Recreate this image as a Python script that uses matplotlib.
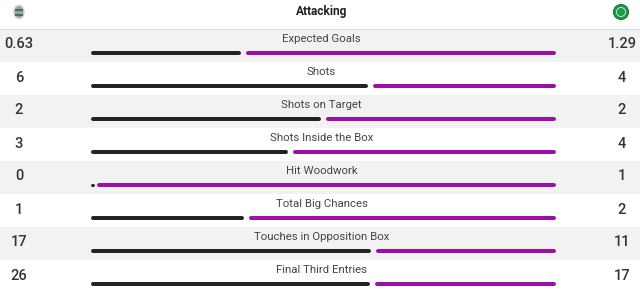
import matplotlib
matplotlib.use("Agg")
import matplotlib.pyplot as plt
from matplotlib.patches import Circle, Rectangle, Ellipse

plt.rcParams['font.family'] = ['Roboto', 'DejaVu Sans']

title = "Attacking"
stats = ["Expected Goals", "Shots", "Shots on Target", "Shots Inside the Box",
         "Hit Woodwork", "Total Big Chances", "Touches in Opposition Box",
         "Final Third Entries"]
home = [0.63, 6, 2, 3, 0, 1, 17, 26]
away = [1.29, 4, 2, 4, 1, 2, 11, 17]
home_labels = ["0.63", "6", "2", "3", "0", "1", "17", "26"]
away_labels = ["1.29", "4", "2", "4", "1", "2", "11", "17"]

W, H = 640, 291
fig = plt.figure(figsize=(W / 100, H / 100), dpi=100)
ax = fig.add_axes([0, 0, 1, 1])
ax.set_xlim(0, W)
ax.set_ylim(H, 0)
ax.axis('off')

BLACK = "#232323"
PURPLE = "#9c0fa8"
BAND = "#f2f2f2"
CX = 321.5

# header
ax.text(CX, 12, title, ha='center', va='center', fontsize=8.6, fontweight='bold', color='#222222')
ax.plot([0, W], [28.5, 28.5], color='#dddddd', lw=0.8)

# logos (simplified)
ax.add_patch(Ellipse((19, 12), 10, 13, facecolor='#8fa898', edgecolor='#c9d3cc', lw=1))
ax.add_patch(Rectangle((15, 9), 8, 2, facecolor='#4d6b55', edgecolor='none'))
ax.add_patch(Rectangle((15, 13.5), 8, 2, facecolor='#4d6b55', edgecolor='none'))
ax.add_patch(Circle((621, 12), 7.5, facecolor='#1e9a4c', edgecolor='#137a37', lw=0.8))
ax.add_patch(Circle((621, 12), 4.5, facecolor='none', edgecolor='#d9efe0', lw=0.6))

x0, x1 = 91.0, 556.0
lw_px = 4.0
lw_pt = lw_px * 72 / 100
cap = lw_px / 2
gap = 2.5
pitch = 33.0
top0 = 29.0

for i, (name, h, a) in enumerate(zip(stats, home, away)):
    top = top0 + i * pitch
    if i % 2 == 0:
        ax.add_patch(Rectangle((0, top), W, pitch, facecolor=BAND, edgecolor='none', zorder=0))
    ax.text(CX, top + 10, name, ha='center', va='center', fontsize=8.2, color='#444444')
    ax.text(19, top + 15.5, home_labels[i], ha='center', va='center', fontsize=10.5,
            fontweight='medium', color='#333333')
    ax.text(622, top + 15.5, away_labels[i], ha='center', va='center', fontsize=10.5,
            fontweight='medium', color='#333333')
    tot = h + a
    frac = h / tot if tot else 0.5
    split = x0 + frac * (x1 - x0)
    yb = top + 24
    ls, le = x0 + cap, split - gap - cap
    rs, re_ = split + gap + cap, x1 - cap
    if h == 0:
        ax.plot([x0 + 0.8, x0 + 1.8], [yb, yb], color=BLACK, lw=lw_pt * 0.75,
                solid_capstyle='round')
        rs = x0 + 6 + cap
    else:
        ax.plot([ls, max(le, ls)], [yb, yb], color=BLACK, lw=lw_pt, solid_capstyle='round')
    ax.plot([rs, re_], [yb, yb], color=PURPLE, lw=lw_pt, solid_capstyle='round')

fig.savefig("out.png", dpi=100)
